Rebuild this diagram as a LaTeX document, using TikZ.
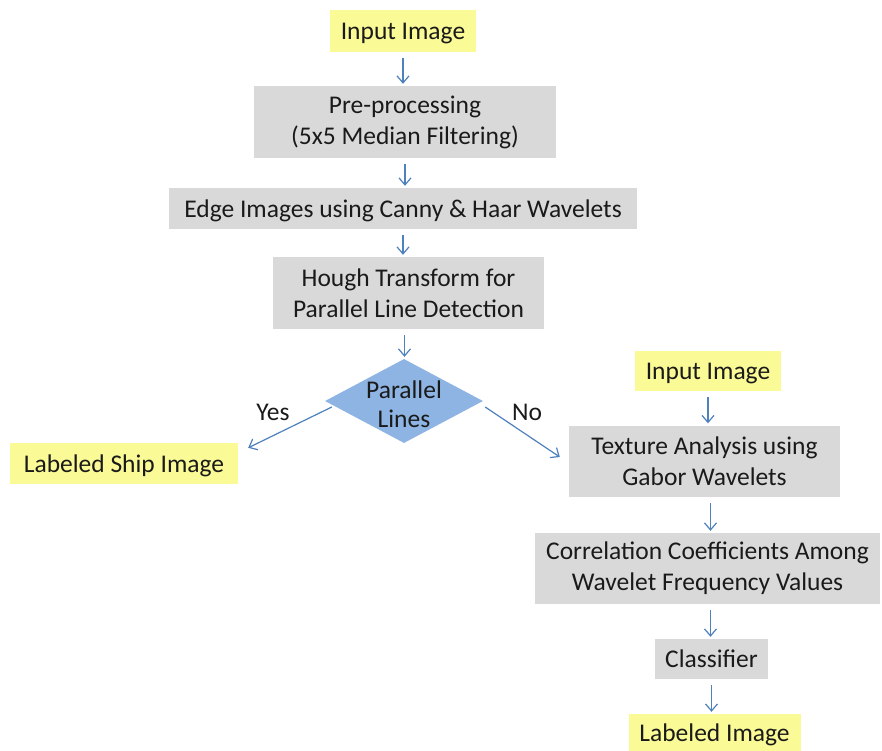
\documentclass[tikz,border=0pt]{standalone}
\usepackage{fontspec}
\setmainfont{Carlito}
\usetikzlibrary{shapes.geometric,arrows.meta}
\definecolor{ylw}{HTML}{FAFA96}
\definecolor{gry}{HTML}{D9D9D9}
\definecolor{dblue}{HTML}{8DB4E2}
\definecolor{arrblue}{HTML}{4F81BD}
\definecolor{txt}{HTML}{1A1A1A}
\begin{document}
\begin{tikzpicture}[x=1pt,y=-1pt,
  every node/.style={font=\fontsize{25.5}{31}\selectfont, text=txt},
  ybox/.style={rectangle, fill=ylw, inner sep=0pt, align=center},
  gbox/.style={rectangle, fill=gry, inner sep=0pt, align=center},
  oneline/.style={text height=21pt, text depth=4pt},
  dia/.style={diamond, fill=dblue, inner sep=0pt, minimum width=158pt, minimum height=84pt},
  arr/.style={draw=arrblue, line width=1.2pt, -{Straight Barb[length=7pt,width=12pt,line width=1.2pt]}},
  varr/.style={arr, shorten <=6pt, shorten >=2pt}
]
\useasboundingbox[fill=white] (0,0) rectangle (882,750);
% left column
\node[ybox, oneline, minimum width=146pt, minimum height=42pt] (in1) at (403,31) {Input Image};
\node[gbox, minimum width=302pt, minimum height=72pt] (pre) at (405,122) {Pre-processing\\(5x5 Median Filtering)};
\node[gbox, oneline, minimum width=468pt, minimum height=41pt] (edge) at (403,208.5) {Edge Images using Canny \& Haar Wavelets};
\node[gbox, minimum width=271pt, minimum height=72pt] (hough) at (408.5,293) {Hough Transform for\\Parallel Line Detection};
\node[dia] (dec) at (404,401) {};
\node[align=center, font=\fontsize{25.5}{29}\selectfont] (dectxt) at ([yshift=-3]dec.center) {Parallel\\Lines};
\node[ybox, oneline, minimum width=228pt, minimum height=41pt] (ship) at (124,463.5) {Labeled Ship Image};
% right column
\node[ybox, oneline, minimum width=146pt, minimum height=40pt] (in2) at (708,371) {Input Image};
\node[gbox, minimum width=271pt, minimum height=71pt] (tex) at (704.5,461) {Texture Analysis using\\Gabor Wavelets};
\node[gbox, minimum width=345pt, minimum height=71pt] (corr) at (707.5,568.5) {Correlation Coefficients Among\\Wavelet Frequency Values};
\node[gbox, oneline, minimum width=113pt, minimum height=40pt] (cls) at (711.5,659) {Classifier};
\node[ybox, oneline, minimum width=172pt, minimum height=38pt] (lab) at (714.5,733) {Labeled Image};
% labels
\node (yes) at (273,412) {Yes};
\node (no) at (527,412) {No};
% connectors
\draw[varr] (in1.south) -- (in1.south |- pre.north);
\draw[varr] (pre.south) -- (pre.south |- edge.north);
\draw[varr] (edge.south) -- (edge.south |- hough.north);
\draw[varr] ([xshift=-4]hough.south) -- ([xshift=-4]hough.south |- dec.north);
\draw[arr] ([shift={(7,6)}]dec.west) -- ([shift={(10,5)}]ship.north east);
\draw[arr] ([shift={(2,6)}]dec.east) -- ([shift={(-9,-4)}]tex.west);
\draw[varr] (in2.south) -- (in2.south |- tex.north);
\draw[varr] ([xshift=6]tex.south) -- ([xshift=6]tex.south |- corr.north);
\draw[varr] ([xshift=3]corr.south) -- ([xshift=3]corr.south |- cls.north);
\draw[varr] (cls.south) -- (cls.south |- lab.north);
\end{tikzpicture}
\end{document}
